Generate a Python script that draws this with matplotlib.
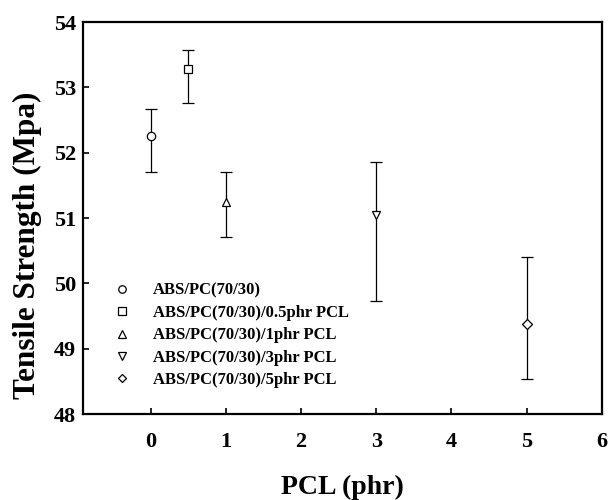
import matplotlib
matplotlib.use('Agg')
import matplotlib.pyplot as plt

# data
labels = ['ABS/PC(70/30)', 'ABS/PC(70/30)/0.5phr PCL', 'ABS/PC(70/30)/1phr PCL',
          'ABS/PC(70/30)/3phr PCL', 'ABS/PC(70/30)/5phr PCL']
pcl = [0, 0.5, 1, 3, 5]
strength = [52.25, 53.28, 51.25, 51.05, 49.38]
err_low = [51.70, 52.76, 50.71, 49.73, 48.54]
err_high = [52.67, 53.57, 51.70, 51.86, 50.40]
markers = ['o', 's', '^', 'v', 'D']

plt.rcParams['font.family'] = ['Liberation Serif', 'DejaVu Serif']
plt.rcParams['font.weight'] = 'bold'

fig = plt.figure(figsize=(6.11, 5.0), dpi=100)
ax = fig.add_axes([0.136, 0.172, 0.849, 0.784])

for i in range(len(pcl)):
    lo = strength[i] - err_low[i]
    hi = err_high[i] - strength[i]
    ms = 5 if markers[i] == 'D' else 6
    ax.errorbar(pcl[i], strength[i], yerr=[[lo], [hi]], fmt=markers[i],
                mfc='white', mec='black', ms=ms, mew=0.9, color='black',
                ecolor='black', elinewidth=0.9, capsize=4.3, capthick=0.9,
                label=labels[i])

ax.set_xlim(-0.9, 6)
ax.set_ylim(48, 54)
ax.set_xticks([0, 1, 2, 3, 4, 5, 6])
ax.set_yticks([48, 49, 50, 51, 52, 53, 54])
ax.tick_params(direction='in', length=4, width=1.2, labelsize=16)
ax.tick_params(axis='y', pad=5)
ax.tick_params(axis='x', pad=13)
for s in ax.spines.values():
    s.set_linewidth(1.6)

ax.set_xlabel('PCL (phr)', fontsize=20, fontweight='bold')
ax.set_ylabel('Tensile Strength (Mpa)', fontsize=22.5, fontweight='bold')
ax.xaxis.set_label_coords(0.5, -0.155)
ax.yaxis.set_label_coords(-0.08, 0.43)

handles, lbls = ax.get_legend_handles_labels()
handles = [h[0] for h in handles]
ax.legend(handles, lbls, loc='upper left', bbox_to_anchor=(0.058, 0.335),
          borderaxespad=0, borderpad=0, frameon=False,
          handletextpad=1.4, labelspacing=0.38, handlelength=1.0,
          markerscale=0.9, prop={'weight': 'bold', 'size': 12})

fig.savefig('out.png', dpi=100)
